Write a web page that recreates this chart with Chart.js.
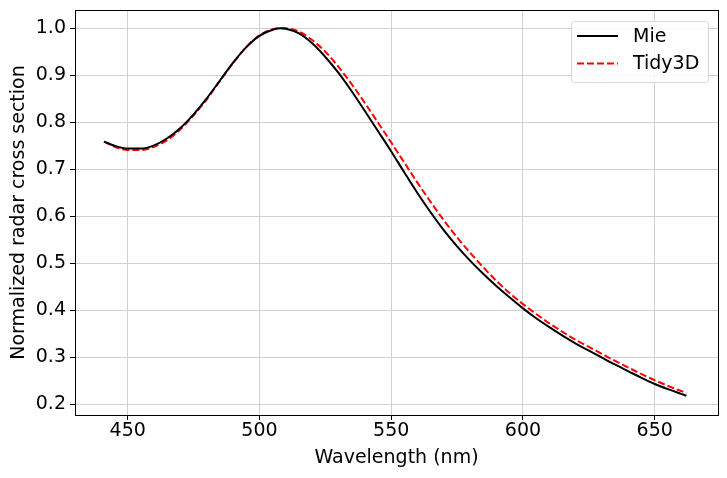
<!DOCTYPE html>
<html>
<head>
<meta charset="utf-8">
<script src="https://cdn.jsdelivr.net/npm/chart.js@4"></script>
<style>
  html, body { margin: 0; padding: 0; background: #fff; }
</style>
</head>
<body>
<canvas id="chart" width="727" height="478"></canvas>
<script>
// wavelength samples (nm)
const wavelengths = [441, 445, 450, 455, 460, 465, 470, 475, 480, 485, 490, 495, 500, 505, 508, 510, 515, 520, 525, 530, 535, 540, 545, 550, 555, 560, 565, 570, 575, 580, 585, 590, 595, 600, 605, 610, 615, 620, 625, 630, 635, 640, 645, 650, 655, 660, 662];

const mie = [0.759, 0.750, 0.744, 0.744, 0.751, 0.766, 0.788, 0.817, 0.851, 0.889, 0.927, 0.960, 0.984, 0.997, 1.000, 0.999, 0.989, 0.968, 0.939, 0.905, 0.866, 0.824, 0.781, 0.738, 0.693, 0.649, 0.608, 0.570, 0.536, 0.505, 0.477, 0.451, 0.427, 0.404, 0.383, 0.364, 0.346, 0.329, 0.314, 0.299, 0.284, 0.270, 0.256, 0.243, 0.232, 0.222, 0.218];

const tidy3d = [0.759, 0.748, 0.741, 0.741, 0.748, 0.762, 0.785, 0.815, 0.849, 0.888, 0.926, 0.960, 0.985, 0.998, 1.000, 1.000, 0.993, 0.975, 0.950, 0.918, 0.881, 0.841, 0.799, 0.757, 0.714, 0.671, 0.630, 0.591, 0.555, 0.522, 0.491, 0.462, 0.436, 0.413, 0.392, 0.372, 0.354, 0.337, 0.322, 0.307, 0.292, 0.278, 0.264, 0.251, 0.239, 0.228, 0.224];

const xTicks = [450, 500, 550, 600, 650];
const yTicks = [0.2, 0.3, 0.4, 0.5, 0.6, 0.7, 0.8, 0.9, 1.0];

const FONT = "'DejaVu Sans', sans-serif";

// frame around the plot area + matplotlib-style legend box
const framePlugin = {
  id: "frame",
  afterDraw(chart) {
    const { ctx, chartArea: a } = chart;
    ctx.save();
    ctx.strokeStyle = "#000";
    ctx.lineWidth = 1;
    ctx.strokeRect(Math.round(a.left) + 0.5, Math.round(a.top) + 0.5,
      Math.round(a.right - a.left), Math.round(a.bottom - a.top));

    // legend
    const x0 = 571, y0 = 21, w = 137, h = 61;
    ctx.fillStyle = "rgba(255,255,255,0.8)";
    ctx.strokeStyle = "#d6d6d6";
    ctx.beginPath();
    ctx.roundRect(x0 + 0.5, y0 + 0.5, w, h, 3);
    ctx.fill();
    ctx.stroke();
    ctx.font = "19px " + FONT;
    ctx.textBaseline = "middle";
    chart.data.datasets.forEach((ds, i) => {
      const y = 36 + i * 27.5;
      ctx.strokeStyle = ds.borderColor;
      ctx.lineWidth = ds.borderWidth;
      ctx.setLineDash(ds.borderDash || []);
      ctx.beginPath();
      ctx.moveTo(577, y);
      ctx.lineTo(618, y);
      ctx.stroke();
      ctx.setLineDash([]);
      ctx.fillStyle = "#000";
      ctx.fillText(ds.label, 633, y + 1);
    });
    ctx.restore();
  },
};

new Chart(document.getElementById("chart"), {
  type: "line",
  data: {
    datasets: [
      {
        label: "Mie",
        data: wavelengths.map((x, i) => ({ x: x, y: mie[i] })),
        borderColor: "#000000",
        borderWidth: 2,
        pointRadius: 0,
        cubicInterpolationMode: "monotone",
      },
      {
        label: "Tidy3D",
        data: wavelengths.map((x, i) => ({ x: x, y: tidy3d[i] })),
        borderColor: "#ff0000",
        borderWidth: 2,
        borderDash: [7, 3],
        pointRadius: 0,
        cubicInterpolationMode: "monotone",
      },
    ],
  },
  options: {
    responsive: false,
    animation: false,
    devicePixelRatio: 1,
    layout: { padding: { top: 10, right: 9, left: 0, bottom: 0 } },
    plugins: {
      legend: { display: false },
      tooltip: { enabled: false },
    },
    scales: {
      x: {
        type: "linear",
        min: 430,
        max: 674,
        afterBuildTicks: (s) => { s.ticks = xTicks.map((v) => ({ value: v })); },
        afterFit: (s) => { s.height = 63; s.paddingLeft = 0; s.paddingRight = 0; },
        ticks: { color: "#000", font: { family: FONT, size: 19 }, padding: 0, maxRotation: 0 },
        grid: { color: "#d0d0d0", lineWidth: 1, tickColor: "#000", tickLength: 5 },
        border: { display: false },
        title: {
          display: true,
          text: "Wavelength (nm)",
          color: "#000",
          font: { family: FONT, size: 19 },
          padding: { top: 0, bottom: 9 },
        },
      },
      y: {
        min: 0.177,
        max: 1.039,
        afterBuildTicks: (s) => { s.ticks = yTicks.map((v) => ({ value: v })); },
        afterFit: (s) => { s.width = 75; s.paddingTop = 0; s.paddingBottom = 0; },
        ticks: {
          color: "#000",
          font: { family: FONT, size: 19 },
          padding: 4,
          callback: (v) => v.toFixed(1),
        },
        grid: { color: "#d0d0d0", lineWidth: 1, tickColor: "#000", tickLength: 5 },
        border: { display: false },
        title: {
          display: true,
          text: "Normalized radar cross section",
          color: "#000",
          font: { family: FONT, size: 19 },
          padding: { top: 8, bottom: 0 },
        },
      },
    },
  },
  plugins: [framePlugin],
});
</script>
</body>
</html>
